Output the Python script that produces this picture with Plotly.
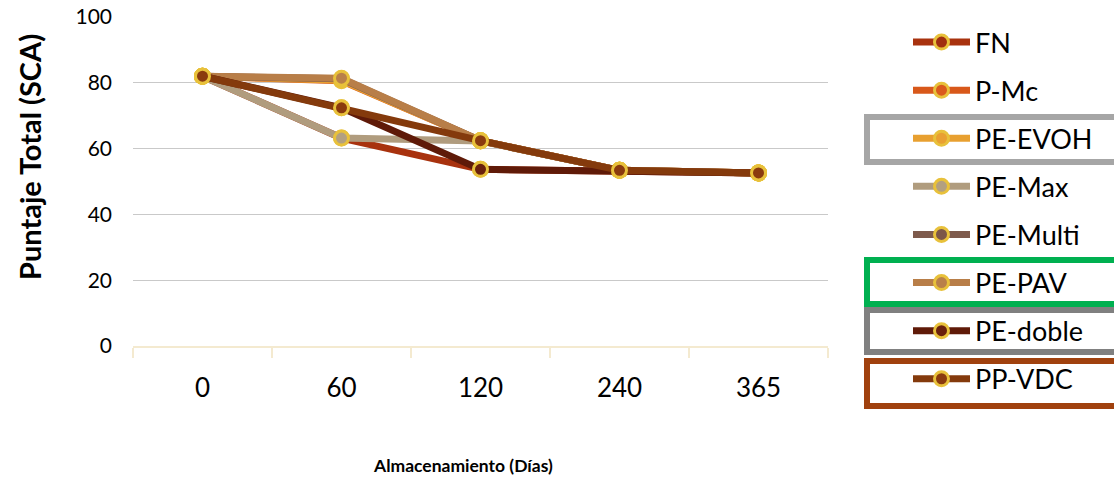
import plotly.graph_objects as go

# ---- data ----
dias = ["0", "60", "120", "240", "365"]
series_names = ["FN", "P-Mc", "PE-EVOH", "PE-Max", "PE-Multi", "PE-PAV", "PE-doble", "PP-VDC"]
fn = [82.0, 63.2, 53.7, 53.4, 52.6]
p_mc = [82.0, 80.6, 62.4, 53.4, 52.6]
pe_evoh = [82.0, 80.8, 62.4, 53.4, 52.6]
pe_max = [82.0, 63.2, 62.3, 53.4, 52.6]
pe_multi = [82.0, 81.2, 62.4, 53.4, 52.6]
pe_pav = [82.0, 81.4, 62.4, 53.4, 52.6]
pe_doble = [82.0, 72.4, 53.7, 53.4, 52.6]
pp_vdc = [82.0, 72.4, 62.4, 53.4, 52.6]
values = [fn, p_mc, pe_evoh, pe_max, pe_multi, pe_pav, pe_doble, pp_vdc]
line_colors = ["#A8320E", "#D8581A", "#E8A030", "#B09C7E", "#7E5A4C", "#B87E48", "#5F1A08", "#843A0C"]
marker_colors = ["#A02E10", "#DA5A1C", "#E9A032", "#B3A080", "#7C5648", "#B98049", "#6A200C", "#8A3A0E"]
y_ticks = [0, 20, 40, 60, 80, 100]

W, H = 1114, 477
L, R, T, B = 133, 286, 17, 131
PW, PH = W - L - R, H - T - B

def px(x):
    return (x - L) / PW

def py(y):
    return (H - B - y) / PH

FONT = "Lato"

fig = go.Figure()
for name, vals, lc, mc in zip(series_names, values, line_colors, marker_colors):
    fig.add_trace(go.Scatter(
        x=dias, y=vals, name=name, mode="lines+markers",
        line=dict(color=lc, width=7),
        marker=dict(size=14, color=mc, line=dict(color="#E8C13B", width=3)),
        legendgroup=name,
    ))

# highlight boxes around some legend entries
boxes = [
    (117, 162, "#A6A6A6"),
    (260, 304, "#00B050"),
    (310, 352, "#808080"),
    (361, 406, "#A0410E"),
]
for top, bot, col in boxes:
    fig.add_shape(type="rect", xref="paper", yref="paper",
                  x0=px(867), x1=px(1125), y0=py(bot), y1=py(top),
                  line=dict(color=col, width=6), fillcolor="rgba(0,0,0,0)", layer="below")

fig.add_annotation(text="<b>Puntaje Total (SCA)</b>", xref="paper", yref="paper",
                   x=px(30), y=py(157), xanchor="center", yanchor="middle", textangle=-90,
                   showarrow=False, font=dict(family=FONT, size=29, color="#000000"))
fig.add_annotation(text="<b>Almacenamiento (Días)</b>", xref="paper", yref="paper",
                   x=px(463), y=py(465), xanchor="center", yanchor="middle",
                   showarrow=False, font=dict(family=FONT, size=17.5, color="#000000"))

fig.update_layout(
    width=W, height=H,
    margin=dict(l=L, r=R, t=T, b=B, autoexpand=False),
    paper_bgcolor="white", plot_bgcolor="white",
    font=dict(family=FONT, color="#000000"),
    showlegend=True,
    legend=dict(x=908 / W, y=1 - 18 / H, xref="container", yref="container",
                xanchor="left", yanchor="top", maxheight=470,
                font=dict(family=FONT, size=27, color="#000000"),
                tracegroupgap=10, itemwidth=57, bgcolor="rgba(0,0,0,0)"),
    xaxis=dict(type="category", categoryorder="array", categoryarray=dias,
               range=[-0.5, len(dias) - 0.5],
               showgrid=False, showline=True, linecolor="#F4EAD0", linewidth=2,
               ticks="outside", tickson="boundaries", ticklen=10, tickcolor="#F4EAD0", tickwidth=2,
               tickfont=dict(family=FONT, size=26, color="#000000"),
               ticklabelstandoff=18, zeroline=False),
    yaxis=dict(range=[0, 100], tickvals=y_ticks, showgrid=True, gridcolor="#C9C9C9", gridwidth=1.3,
               zeroline=False, showline=False, ticks="",
               tickfont=dict(family=FONT, size=21, color="#000000"),
               ticklabelstandoff=20),
)

fig.write_html("out.html", config={"displayModeBar": False},
               post_script="document.body.style.margin='0px';document.body.style.padding='0px';")
